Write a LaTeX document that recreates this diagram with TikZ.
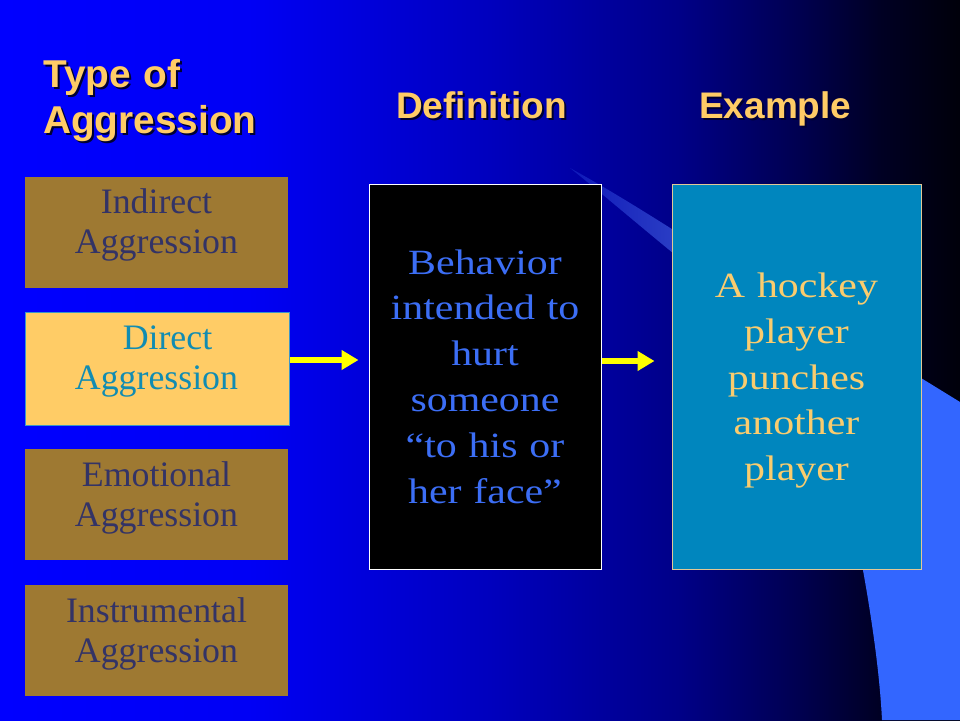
\documentclass[tikz,border=0pt]{standalone}
\usepackage{fontspec}
\setmainfont{Liberation Serif}
\newfontfamily\headfont{Liberation Sans}
\newfontfamily\wideserif{Liberation Serif}[FakeStretch=1.18]
\usetikzlibrary{arrows.meta}
\definecolor{hdr}{RGB}{255,204,102}
\definecolor{hdrshadow}{RGB}{0,0,50}
\definecolor{brownfill}{RGB}{158,121,50}
\definecolor{browntext}{RGB}{51,51,102}
\definecolor{directfill}{RGB}{255,204,102}
\definecolor{directtext}{RGB}{17,140,178}
\definecolor{directborder}{RGB}{60,150,200}
\definecolor{deftext}{RGB}{60,110,245}
\definecolor{exfill}{RGB}{0,134,190}
\definecolor{exborder}{RGB}{225,200,150}
\definecolor{extext}{RGB}{250,204,110}
\definecolor{brightshape}{RGB}{51,102,255}
\definecolor{arrowyellow}{RGB}{255,255,0}
\definecolor{swooshA}{RGB}{15,25,185}
\definecolor{swooshB}{RGB}{50,72,200}
\pgfdeclarehorizontalshading{slidebg}{100bp}{rgb(0bp)=(0,0,1); rgb(25bp)=(0,0,1); rgb(38bp)=(0,0,0.96); rgb(50.5bp)=(0,0,0.745); rgb(60.4bp)=(0,0,0.53); rgb(66.7bp)=(0,0,0.31); rgb(70.8bp)=(0,0,0.14); rgb(75bp)=(0,0,0.04); rgb(100bp)=(0,0,0.04)}
\newcommand\shtext[1]{\makebox[0pt][l]{\hspace{2pt}\raisebox{-2pt}{\color{hdrshadow}#1}}#1}
\begin{document}
\begin{tikzpicture}[x=1pt,y=-1pt,
  brownbox/.style={minimum width=263pt,minimum height=111pt,inner sep=0pt,fill=brownfill},
  directbox/.style={minimum width=264pt,minimum height=113pt,inner sep=0pt,fill=directfill,draw=directborder,line width=1pt},
  defbox/.style={minimum width=232pt,minimum height=385pt,inner sep=0pt,fill=black,draw=white,line width=1pt},
  exbox/.style={minimum width=249pt,minimum height=385pt,inner sep=0pt,fill=exfill,draw=exborder,line width=1pt},
  lefttext/.style={anchor=base,inner sep=0pt,text width=256pt,align=center,font=\fontsize{35.8}{40.5}\selectfont},
  bigtext/.style={anchor=base,inner sep=0pt,text width=230pt,align=center,font=\wideserif\fontsize{35.5}{45.8}\selectfont},
  hdrtext/.style={anchor=base west,inner sep=0pt,text=hdr,font=\headfont\bfseries\fontsize{37}{46}\selectfont},
  arr/.style={draw=arrowyellow,line width=6.5pt,-{Triangle[length=17pt,width=19pt]}}
]
\useasboundingbox (0,0) rectangle (960,720);
\shade[shading=slidebg] (0,0) rectangle (960,720);
% decorative shapes
\shade[left color=swooshA,right color=swooshB] (570,168) .. controls (610,190) and (650,215) .. (705,250) -- (705,279) .. controls (650,235) and (610,200) .. (570,168) -- cycle;
\fill[brightshape] (960,402) -- (921,378) -- (850,336) -- (845,480) .. controls (858,540) and (878,640) .. (882,720) -- (960,720) -- cycle;
% headings
\node[hdrtext,text width=260pt,align=left,font=\headfont\bfseries\fontsize{38.8}{46}\selectfont] (htype) at (43,87) {\shtext{Type of}\\\shtext{Aggression}};
\node[hdrtext] (hdef) at (396,118) {\shtext{Definition}};
\node[hdrtext] (hex) at (699,118) {\shtext{Example}};
% type boxes
\node[brownbox] (ind) at (156.5,232.5) {};
\node[directbox] (dir) at (157,368.5) {};
\node[brownbox] (emo) at (156.5,504.5) {};
\node[brownbox] (ins) at (156.5,640.5) {};
\node[lefttext,text=browntext] (indt) at (156.5,213) {Indirect\\Aggression};
\node[lefttext,text=directtext] (dirt) at (156.5,349) {\hspace*{22pt}Direct\\Aggression};
\node[lefttext,text=browntext] (emot) at (156.5,486) {Emotional\\Aggression};
\node[lefttext,text=browntext] (inst) at (156.5,622) {Instrumental\\Aggression};
% definition and example
\node[defbox] (def) at (485,376.5) {};
\node[exbox] (ex) at (796.5,376.5) {};
\node[bigtext,text=deftext] (deft) at (485,274) {Behavior\\intended to\\hurt\\someone\\“to his or\\her face”};
\node[bigtext,text=extext] (ext) at (796.5,297.5) {A hockey\\player\\punches\\another\\player};
% arrows
\draw[arr,shorten >=10pt] ([yshift=8.5pt]dir.east) -- ([yshift=8.5pt]dir.east -| def.west);
\draw[arr,shorten >=17pt] ([yshift=15.5pt]def.east) -- ([yshift=15.5pt]def.east -| ex.west);
\end{tikzpicture}
\end{document}
